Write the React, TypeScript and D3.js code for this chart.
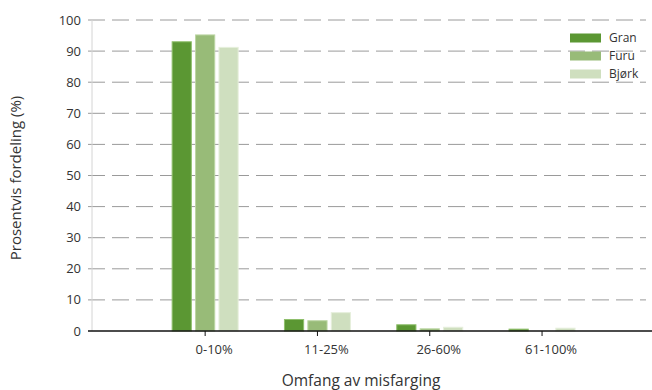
import { useEffect, useRef } from "react";
import * as d3 from "d3";

const categories = ["0-10%", "11-25%", "26-60%", "61-100%"];
const seriesNames = ["Gran", "Furu", "Bjørk"];
const gran = [93, 3.7, 2.0, 0.6];
const furu = [95.2, 3.3, 0.7, 0];
const bjork = [91.2, 5.9, 1.2, 0.9];
const yTicks = [0, 10, 20, 30, 40, 50, 60, 70, 80, 90, 100];

const colors = ["#5b9733", "#98bb78", "#cfdfbf"];
const strokes = ["#8fbf6c", "#bcd6a4", "#e6efdc"];

function App() {
  const svgRef = useRef(null);

  useEffect(() => {
    const width = 652;
    const height = 390;
    const margin = { top: 20, right: 0, bottom: 59, left: 92 };
    const font = "'Open Sans', 'Noto Sans', sans-serif";

    const svg = d3.select(svgRef.current);
    svg.selectAll("*").remove();

    const x = d3
      .scaleBand()
      .domain(categories)
      .range([149, 149 + 4 * 112.3]);

    const y = d3
      .scaleLinear()
      .domain([0, 100])
      .range([height - margin.bottom, margin.top]);

    const inner = d3
      .scaleBand()
      .domain(seriesNames)
      .range([-33, 33])
      .paddingInner(0.18)
      .paddingOuter(0);

    // grid lines
    svg
      .append("g")
      .selectAll("line")
      .data(yTicks.filter((t) => t > 0))
      .enter()
      .append("line")
      .attr("x1", 88)
      .attr("x2", 646)
      .attr("y1", (d) => y(d))
      .attr("y2", (d) => y(d))
      .attr("stroke", "#9a9a9a")
      .attr("stroke-width", 1)
      .attr("stroke-dasharray", "17,7");

    // y axis line
    svg
      .append("line")
      .attr("x1", margin.left)
      .attr("x2", margin.left)
      .attr("y1", y(100))
      .attr("y2", y(0))
      .attr("stroke", "#d4d4d4");

    // y tick labels
    svg
      .append("g")
      .selectAll("text")
      .data(yTicks)
      .enter()
      .append("text")
      .attr("x", 81)
      .attr("y", (d) => y(d))
      .attr("dy", "0.35em")
      .attr("text-anchor", "end")
      .style("font-family", font)
      .style("font-size", "13px")
      .attr("fill", "#333")
      .text((d) => d);

    // bars
    const allSeries = [gran, furu, bjork];
    allSeries.forEach((vals, si) => {
      svg
        .append("g")
        .selectAll("rect")
        .data(vals.map((v, i) => ({ v, cat: categories[i] })))
        .enter()
        .filter((d) => d.v > 0)
        .append("rect")
        .attr("x", (d) => x(d.cat) + x.bandwidth() / 2 + inner(seriesNames[si]))
        .attr("y", (d) => y(d.v))
        .attr("width", inner.bandwidth())
        .attr("height", (d) => y(0) - y(d.v))
        .attr("fill", colors[si])
        .attr("stroke", strokes[si])
        .attr("stroke-width", 1);
    });

    // x baseline
    svg
      .append("line")
      .attr("x1", 88)
      .attr("x2", width)
      .attr("y1", y(0))
      .attr("y2", y(0))
      .attr("stroke", "#111")
      .attr("stroke-width", 1.5);

    // x ticks + labels
    const xg = svg
      .append("g")
      .selectAll("g")
      .data(categories)
      .enter()
      .append("g")
      .attr("transform", (d) => `translate(${x(d) + x.bandwidth() / 2},${y(0)})`);
    xg.append("line").attr("y1", 0).attr("y2", 5).attr("stroke", "#111");
    xg.append("text")
      .attr("x", 9)
      .attr("y", 23)
      .attr("text-anchor", "middle")
      .style("font-family", font)
      .style("font-size", "13px")
      .attr("fill", "#333")
      .text((d) => d);

    // axis titles
    svg
      .append("text")
      .attr("transform", `translate(21,178) rotate(-90)`)
      .attr("text-anchor", "middle")
      .style("font-family", font)
      .style("font-size", "15px")
      .attr("fill", "#333")
      .text("Prosentvis fordeling (%)");

    svg
      .append("text")
      .attr("x", 361)
      .attr("y", 386)
      .attr("text-anchor", "middle")
      .style("font-family", font)
      .style("font-size", "15.5px")
      .attr("fill", "#333")
      .text("Omfang av misfarging");

    // legend
    const legend = svg.append("g").attr("transform", "translate(570,38)");
    seriesNames.forEach((name, i) => {
      legend
        .append("rect")
        .attr("x", 0)
        .attr("y", i * 18 - 4.5)
        .attr("width", 31)
        .attr("height", 9)
        .attr("fill", colors[i]);
      legend
        .append("text")
        .attr("x", 39)
        .attr("y", i * 18)
        .attr("dy", "0.35em")
        .style("font-family", font)
        .style("font-size", "12px")
        .attr("fill", "#333")
        .text(name);
    });
  }, []);

  return (
    <div style={{ position: "absolute", left: 0, top: 0 }}>
      <svg ref={svgRef} width={652} height={390}></svg>
    </div>
  );
}

export default App;
